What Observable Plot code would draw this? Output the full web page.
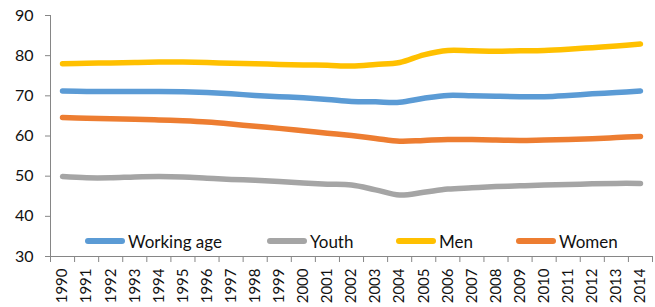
<!DOCTYPE html>
<html><head><meta charset="utf-8">
<script src="https://cdn.jsdelivr.net/npm/d3@7"></script>
<script src="https://cdn.jsdelivr.net/npm/@observablehq/plot@0.6"></script>
<style>
body{margin:0;background:#fff;}
#wrap{position:relative;width:655px;height:307px;overflow:hidden;}
#wrap svg{display:block;}
.leg{position:absolute;height:16px;display:flex;align-items:center;font-family:Lato,sans-serif;font-size:17px;color:#111;white-space:nowrap;}
.sw{width:40px;height:6px;border-radius:3px;margin-right:3px;}
</style></head><body><div id="wrap"></div>
<script>
const years = [1990,1991,1992,1993,1994,1995,1996,1997,1998,1999,2000,2001,2002,2003,2004,2005,2006,2007,2008,2009,2010,2011,2012,2013,2014];
const workingAge = [71.2,71.1,71.1,71.1,71.1,71.0,70.8,70.5,70.1,69.8,69.5,69.1,68.6,68.5,68.4,69.4,70.1,70.0,69.9,69.8,69.8,70.1,70.5,70.8,71.2];
const youth = [49.9,49.6,49.6,49.8,49.9,49.8,49.5,49.2,49.0,48.7,48.3,48.0,47.8,46.6,45.3,46.0,46.8,47.1,47.4,47.6,47.8,47.9,48.1,48.2,48.2];
const men = [78.0,78.1,78.2,78.3,78.4,78.4,78.3,78.1,78.0,77.8,77.7,77.6,77.4,77.8,78.3,80.2,81.3,81.2,81.1,81.2,81.3,81.6,82.0,82.4,82.9];
const women = [64.6,64.4,64.3,64.2,64.0,63.8,63.5,63.0,62.4,61.9,61.3,60.7,60.1,59.4,58.7,58.9,59.1,59.1,59.0,58.9,59.0,59.1,59.3,59.6,59.9];
const seriesNames = ["Working age","Youth","Men","Women"];
const seriesColors = ["#5B9BD5","#A5A5A5","#FFC000","#ED7D31"];
const yTicks = [30,40,50,60,70,80,90];

const seriesValues = [workingAge, youth, men, women];
const data = seriesNames.flatMap((name, s) => years.map((year, i) => ({year, value: seriesValues[s][i], series: name})));
const bandEdges = d3.range(years[0] - 0.5, years[years.length - 1] + 1, 1);

const plot = Plot.plot({
  width: 655, height: 307,
  marginLeft: 50, marginRight: 3, marginTop: 15, marginBottom: 51,
  style: {fontFamily: "Lato, sans-serif", fontSize: "15px", color: "#111", background: "#fff"},
  x: {domain: [years[0] - 0.5, years[years.length - 1] + 0.5]},
  y: {domain: [30, 90]},
  color: {domain: seriesNames, range: seriesColors},
  marks: [
    Plot.axisY({ticks: yTicks, tickSize: 5, tickPadding: 12, label: null, stroke: "#868686", fill: "#111", fontSize: 16}),
    Plot.axisX({ticks: bandEdges, tickSize: 6, tickFormat: () => "", label: null, stroke: "#868686"}),
    Plot.axisX({ticks: years, tickSize: 0, tickRotate: -90, tickPadding: 12, tickFormat: d => String(d), label: null, fill: "#111", fontSize: 15}),
    Plot.ruleX([years[0] - 0.5], {y1: 30, y2: 90, stroke: "#868686"}),
    Plot.ruleY([30], {stroke: "#868686"}),
    Plot.line(data, {x: "year", y: "value", z: "series", stroke: "series", strokeWidth: 5.5, strokeLinecap: "round", strokeLinejoin: "round", curve: "catmull-rom"})
  ]
});
const wrap = document.getElementById("wrap");
wrap.appendChild(plot);

const legendLeft = [85, 267, 396, 516];
seriesNames.forEach((name, i) => {
  const d = document.createElement("div");
  d.className = "leg";
  d.style.left = legendLeft[i] + "px";
  d.style.top = "233px";
  const sw = document.createElement("div");
  sw.className = "sw";
  sw.style.background = seriesColors[i];
  d.appendChild(sw);
  const t = document.createElement("span");
  t.textContent = name;
  d.appendChild(t);
  wrap.appendChild(d);
});
</script></body></html>
